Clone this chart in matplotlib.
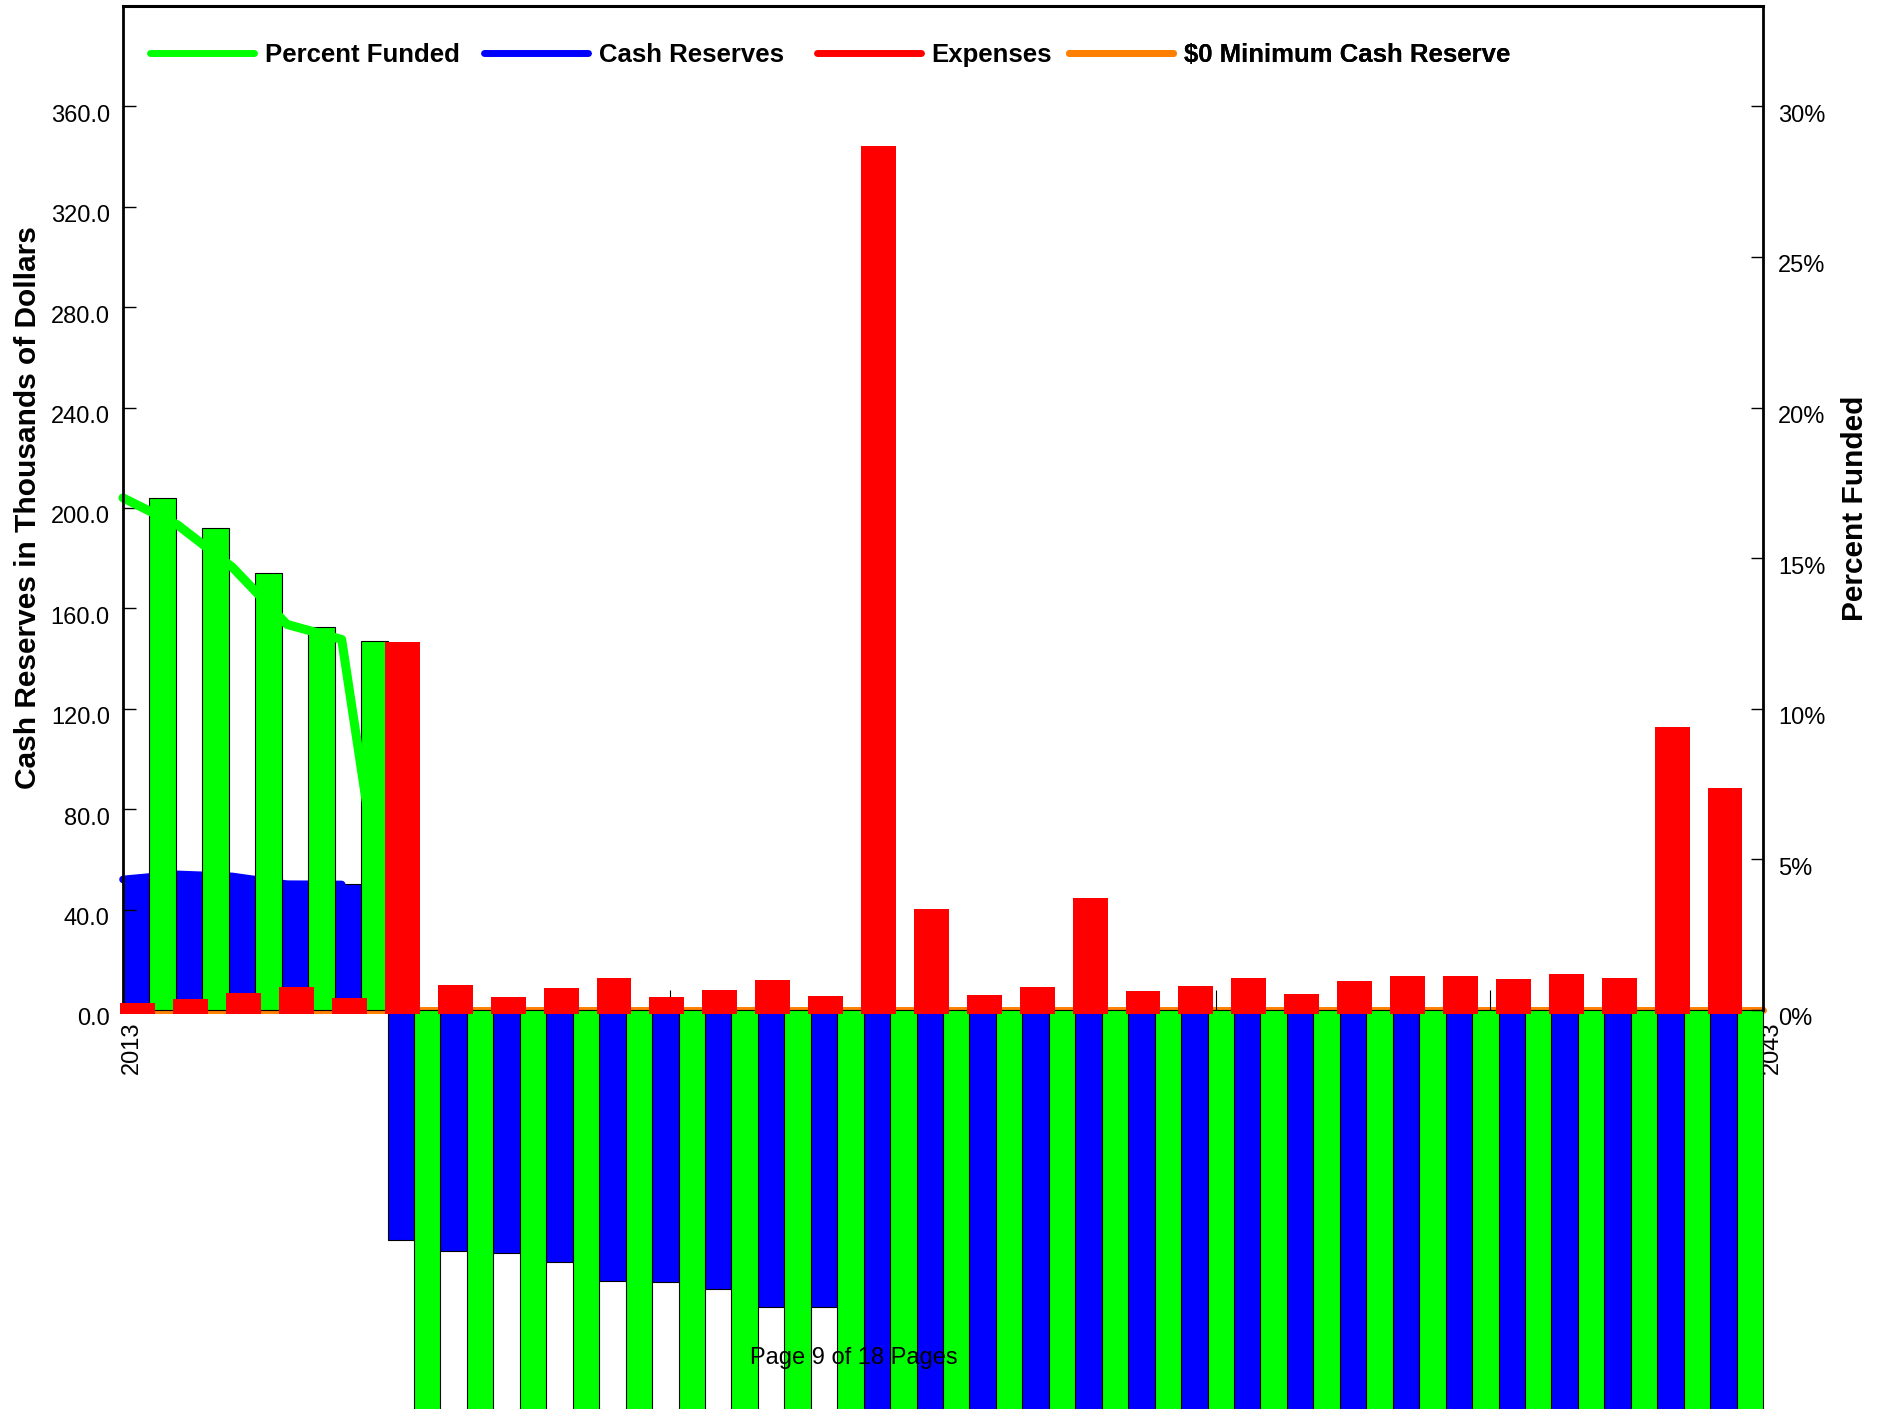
import matplotlib.pyplot as plt
import matplotlib.transforms as mtransforms
from matplotlib.lines import Line2D
import numpy as np

plt.rcParams['font.family'] = ['Liberation Sans', 'DejaVu Sans']

years = np.arange(2013, 2044)

# Cash reserves in thousands of dollars (from 2027 on they run off the page)
cash_reserves = [52.0, 54.0, 53.2, 50.1, 50.0, -91.5, -96.0, -96.7, -100.5, -108.0,
                 -108.5, -111.3, -118.4, -118.2, -457.0, -492.0, -493.0, -497.0, -537.0,
                 -540.0, -544.0, -552.0, -554.0, -560.0, -569.0, -577.0, -585.0, -594.0,
                 -602.0, -709.0, -792.0]

# Expenses in thousands of dollars
expenses = [2.9, 4.5, 6.9, 9.2, 4.8, 146.4, 9.8, 5.1, 8.9, 12.7, 5.3, 8.0, 12.1, 5.6,
            344.0, 40.4, 5.9, 9.1, 44.8, 7.7, 9.5, 12.9, 6.4, 11.7, 13.5, 13.5, 12.5,
            14.4, 12.7, 112.8, 88.4]

# Percent funded, bars (after 2017 they run off the page)
percent_funded = [17.0, 16.0, 14.5, 12.7, 12.25, -30.5, -32.0, -32.4, -33.6, -36.1,
                  -36.3, -37.2, -39.6, -39.5, -152.8, -164.5, -164.8, -166.1, -179.5,
                  -180.5, -181.8, -184.5, -185.1, -187.2, -190.2, -192.9, -195.5,
                  -198.5, -201.2, -237.0, -264.7]

# Percent funded, trend line
percent_funded_line = [17.0, 16.1, 14.7, 12.8, 12.3, 0.3, -1.9, -2.0, -2.1, -2.4,
                       -2.4, -2.5, -2.7, -2.7, -9.9, -10.6, -10.7, -10.8, -11.6, -11.7,
                       -11.8, -12.0, -12.0, -12.2, -12.4, -12.6, -12.8, -13.0, -13.2,
                       -15.4, -17.3]

min_cash_reserve = [0.0] * len(years)

GREEN = '#00ff00'
BLUE = '#0000ff'
RED = '#ff0000'
ORANGE = '#ff8000'

fig = plt.figure(figsize=(18.78, 14.09), dpi=100)
ax = fig.add_axes([0.0655, 0.2832, 0.8733, 0.7126])
ax2 = ax.twinx()
ax.set_xlim(2013, 2043)
ax.set_ylim(0, 400)
ax2.set_ylim(0, 400 / 12)

# each year gets a slot split into a blue and a green half
n = len(years)
w = (years[-1] - years[0]) / n
slot = years[0] + np.arange(n) * w

line_clip = mtransforms.TransformedBbox(
    mtransforms.Bbox([[2012, 0], [2044, 400]]), ax.transData)

ax.plot(years, min_cash_reserve, color=ORANGE, lw=5, solid_capstyle='round',
        zorder=1.0, clip_on=False)
ax.bar(slot, cash_reserves, width=w / 2, align='edge', color=BLUE,
       edgecolor='black', linewidth=0.8, zorder=1.5, clip_on=False)
blue_line, = ax.plot(years, cash_reserves, color=BLUE, lw=5.5,
                     solid_capstyle='round', zorder=1.8)
blue_line.set_clip_box(line_clip)

ax.bar(slot + w / 2, percent_funded, width=w / 2, align='edge', color=GREEN,
       edgecolor='black', linewidth=0.8, zorder=2.0, clip_on=False,
       transform=ax2.transData)
green_line, = ax.plot(years, percent_funded_line, color=GREEN, lw=6.5,
                      solid_capstyle='round', zorder=2.2, transform=ax2.transData)
green_line.set_clip_box(line_clip)

ax.bar(slot + 0.28 * w, np.array(expenses) + 1.5, bottom=-1.5, width=0.66 * w,
       color=RED, linewidth=0, zorder=4, clip_on=False)

# axes, ticks and labels
for s in ['right', 'bottom']:
    ax.spines[s].set_visible(False)
for s in ['left', 'top', 'bottom']:
    ax2.spines[s].set_visible(False)
ax.spines['left'].set_linewidth(2)
ax.spines['top'].set_linewidth(2.2)
ax2.spines['right'].set_linewidth(2)

ax.set_yticks(np.arange(0, 361, 40), labels=[f'{v:.1f}' for v in np.arange(0, 361, 40)])
ax2.set_yticks(np.arange(0, 31, 5), labels=[f'{v}%' for v in np.arange(0, 31, 5)])
xt = np.arange(2013, 2044, 5)
ax.set_xticks(xt, labels=[str(y) if y in (2013, 2043) else '' for y in xt])

ax.tick_params(axis='y', direction='in', length=9, width=1, labelsize=17, pad=9.5)
ax2.tick_params(axis='y', direction='in', length=9, width=1, labelsize=17, pad=11)
ax.tick_params(axis='x', direction='in', length=14.4, width=0.8, labelsize=17,
               labelrotation=90, pad=8.6)

down = mtransforms.ScaledTranslation(0, -7 / 100, fig.dpi_scale_trans)
for lab in ax.get_yticklabels() + ax2.get_yticklabels():
    lab.set_transform(lab.get_transform() + down)
right = mtransforms.ScaledTranslation(9 / 100, 0, fig.dpi_scale_trans)
for lab in ax.get_xticklabels():
    lab.set_transform(lab.get_transform() + right)

ax.set_ylabel('Cash Reserves in Thousands of Dollars', fontsize=21.5,
              fontweight='bold', labelpad=6)
ax2.set_ylabel('Percent Funded', fontsize=21.5, fontweight='bold', labelpad=11)

# legend entries sit at fixed spots along the top
legend_items = [
    (GREEN, 'Percent Funded', 0.0165),
    (BLUE, 'Cash Reserves', 0.2200),
    (RED, 'Expenses', 0.4230),
    (ORANGE, '\\$0 Minimum Cash Reserve', 0.5766),
]
for color, label, x0 in legend_items:
    h = Line2D([], [], color=color, lw=5, solid_capstyle='round')
    leg = ax.legend([h], [label], loc='upper left', bbox_to_anchor=(x0, 0.963),
                    frameon=False, borderpad=0, borderaxespad=0,
                    handlelength=4.05, handletextpad=0.42,
                    prop={'size': 18.5, 'weight': 'bold'})
    ax.add_artist(leg)

fig.text(0.4547, 0.0359, 'Page 9 of 18 Pages', ha='center', va='center',
         fontsize=17, zorder=10)

fig.savefig('out.png', dpi=100)
